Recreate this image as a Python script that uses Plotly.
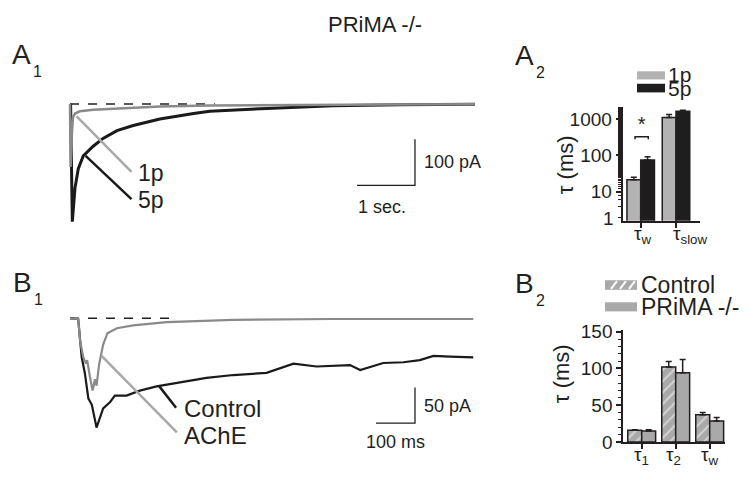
import numpy as np
import plotly.graph_objects as go

W, H = 748, 481
FONT = "Liberation Sans, Arial, sans-serif"
INK = "#231f20"

# ---------------- data ----------------
# A1: currents (pA) vs time (s)
a1_t_1p = [0.0, 0.01, 0.035, 0.052, 0.086, 0.17, 0.40, 0.98, 1.55, 2.41, 3.97, 5.5, 6.98]
a1_i_1p = [0.0, -137, -60, -29, -21, -16, -12.5, -9, -5.6, -3.5, -2.0, -1.5, -1.0]
a1_t_5p = [0.01, 0.04, 0.086, 0.143, 0.229, 0.40, 0.57, 0.81, 1.09, 1.55, 2.13, 2.41, 3.39, 4.53, 5.69, 6.98]
a1_i_5p = [0.0, -256, -183, -141, -113, -92, -75, -58, -47, -33, -21, -16, -10, -4, -2, -0.6]

# B1: currents (pA) vs time (ms)
b1_t_ache = [0, 21, 26, 34, 41, 44, 51, 58, 64, 68, 75, 85, 96, 120, 162, 248, 419, 675, 1034]
b1_i_ache = [0, -1, -32, -55, -64, -59, -82, -102, -86, -95, -64, -37, -21, -14, -10, -5.4, -2.2, -1, -1]
b1_t_ctrl = [0, 21, 30, 38, 47, 56, 68, 85, 103, 115, 145, 179, 222, 291, 350, 419, 504, 573, 632, 718, 744, 803, 855, 897, 932, 974, 1034]
b1_i_ctrl = [0, -1, -55, -77, -113, -122, -154, -127, -118, -109, -109, -102, -96, -89, -84, -80, -77, -64, -68, -66, -73, -63, -62, -59, -53, -54, -55]

# A2: time constants (ms), log scale
a2_cats = ["τ<sub>w</sub>", "τ<sub>slow</sub>"]
a2_1p = [21.3, 1110]
a2_1p_err = [3.7, 250]
a2_5p = [74.6, 1660]
a2_5p_err = [17, 100]
a2_ticks = [10, 100, 1000]

# B2: time constants (ms)
b2_cats = ["τ<sub>1</sub>", "τ<sub>2</sub>", "τ<sub>w</sub>"]
b2_ctrl = [16, 102, 37]
b2_ctrl_err = [0.5, 7.5, 3]
b2_prima = [15, 94, 28.3]
b2_prima_err = [1.5, 18, 5]

# scale bars
a1_bar_pa, a1_bar_s = 100, 1.0
b1_bar_pa, b1_bar_ms = 50, 100


def px(x):
    return x / W


def py(y):
    return 1 - y / H


fig = go.Figure()

# ---------------- A1 ----------------
fig.add_trace(go.Scatter(x=[0, 2.5], y=[0, 0], mode="lines", xaxis="x", yaxis="y",
                         line=dict(color=INK, width=1.5, dash="dash"), hoverinfo="skip"))
fig.add_trace(go.Scatter(x=a1_t_5p, y=a1_i_5p, mode="lines", xaxis="x", yaxis="y",
                         line=dict(color="#1a1a1a", width=3)))
fig.add_trace(go.Scatter(x=a1_t_1p, y=a1_i_1p, mode="lines", xaxis="x", yaxis="y",
                         line=dict(color="#8a8a8a", width=2.5)))
# label lines
fig.add_trace(go.Scatter(x=[0.115, 1.06], y=[-27, -148], mode="lines", xaxis="x", yaxis="y",
                         line=dict(color="#a8a8a8", width=2.5)))
fig.add_trace(go.Scatter(x=[0.27, 1.06], y=[-113, -207], mode="lines", xaxis="x", yaxis="y",
                         line=dict(color="#1a1a1a", width=2.5)))
# scale bar
sx, sy = 5.948, -77
fig.add_trace(go.Scatter(x=[sx - a1_bar_s, sx, sx], y=[sy - a1_bar_pa, sy - a1_bar_pa, sy],
                         mode="lines", xaxis="x", yaxis="y", line=dict(color=INK, width=1.3)))

# ---------------- B1 ----------------
fig.add_trace(go.Scatter(x=[0, 270], y=[0, 0], mode="lines", xaxis="x2", yaxis="y2",
                         line=dict(color=INK, width=1.5, dash="dash")))
fig.add_trace(go.Scatter(x=b1_t_ctrl, y=b1_i_ctrl, mode="lines", xaxis="x2", yaxis="y2",
                         line=dict(color="#1a1a1a", width=2.2)))
fig.add_trace(go.Scatter(x=b1_t_ache, y=b1_i_ache, mode="lines", xaxis="x2", yaxis="y2",
                         line=dict(color="#8a8a8a", width=2.2)))
fig.add_trace(go.Scatter(x=[81, 274], y=[-53, -161], mode="lines", xaxis="x2", yaxis="y2",
                         line=dict(color="#a8a8a8", width=2.5)))
fig.add_trace(go.Scatter(x=[229, 272], y=[-96, -126], mode="lines", xaxis="x2", yaxis="y2",
                         line=dict(color="#1a1a1a", width=2.5)))
bx, by = 884.6, -97.7
fig.add_trace(go.Scatter(x=[bx - b1_bar_ms, bx, bx], y=[by - b1_bar_pa, by - b1_bar_pa, by],
                         mode="lines", xaxis="x2", yaxis="y2", line=dict(color=INK, width=1.3)))

# ---------------- A2 ----------------
w2 = 0.39
fig.add_trace(go.Bar(x=[0, 1], y=a2_1p, width=w2, offset=-w2, xaxis="x3", yaxis="y3",
                     marker=dict(color="#b3b3b3", line=dict(color=INK, width=1.5)),
                     error_y=dict(type="data", array=a2_1p_err, arrayminus=[0, 0], symmetric=False,
                                  color=INK, thickness=1.5, width=3)))
fig.add_trace(go.Bar(x=[0, 1], y=a2_5p, width=w2, offset=0, xaxis="x3", yaxis="y3",
                     marker=dict(color="#1e1e1e", line=dict(color=INK, width=1.5)),
                     error_y=dict(type="data", array=a2_5p_err, arrayminus=[0, 0], symmetric=False,
                                  color=INK, thickness=1.5, width=3)))
# significance bracket
fig.add_trace(go.Scatter(x=[-0.16, -0.16, 0.215, 0.215], y=[280, 328, 328, 280], mode="lines",
                         xaxis="x3", yaxis="y3", line=dict(color=INK, width=1.5)))
fig.add_trace(go.Scatter(x=[0.03], y=[640], mode="text", text=["*"], xaxis="x3", yaxis="y3",
                         textfont=dict(family=FONT, size=20, color=INK)))

# ---------------- B2 ----------------
w4 = 0.41
fig.add_trace(go.Bar(x=[0, 1, 2], y=b2_ctrl, width=w4, offset=-w4, xaxis="x4", yaxis="y4",
                     marker=dict(color="#a9a9a9", line=dict(color=INK, width=1.5),
                                 pattern=dict(shape="/", fgcolor="white", bgcolor="#a9a9a9",
                                              size=8, solidity=0.25)),
                     error_y=dict(type="data", array=b2_ctrl_err, arrayminus=[0, 0, 0], symmetric=False,
                                  color=INK, thickness=1.5, width=3)))
fig.add_trace(go.Bar(x=[0, 1, 2], y=b2_prima, width=w4, offset=0, xaxis="x4", yaxis="y4",
                     marker=dict(color="#a9a9a9", line=dict(color=INK, width=1.5)),
                     error_y=dict(type="data", array=b2_prima_err, arrayminus=[0, 0, 0], symmetric=False,
                                  color=INK, thickness=1.5, width=3)))

tickfont = dict(family=FONT, size=19, color=INK)
ann = []


def text(x, y, s, size=20, xanchor="left", yanchor="middle", angle=0, color=INK):
    ann.append(dict(x=px(x), y=py(y), xref="paper", yref="paper", text=s, showarrow=False,
                    xanchor=xanchor, yanchor=yanchor, textangle=angle,
                    font=dict(family=FONT, size=size, color=color)))


# title & panel letters
text(375, 16, "PRiMA -/-", size=22, xanchor="center")
for (lx, ly, L, n) in [(10, 47, "A", "1"), (513, 48, "A", "2"), (11, 285, "B", "1"), (513, 286, "B", "2")]:
    text(lx, ly, L, size=28)
    text(lx + 21, ly + 18, n, size=16)

# A1 labels
text(136, 171, "1p", size=23)
text(136, 199, "5p", size=23)
text(422, 160, "100 pA", size=18)
text(382, 207, "1 sec.", size=18, xanchor="center")
# B1 labels
text(182, 417, "Control", size=24)
text(182, 445, "AChE", size=24)
text(422, 414, "50 pA", size=18)
text(395, 452, "100 ms", size=18, xanchor="center")

# A2 legend
shapes = []


def rect(x0, y0, x1, y1, color):
    shapes.append(dict(type="rect", xref="paper", yref="paper", x0=px(x0), x1=px(x1),
                       y0=py(y1), y1=py(y0), fillcolor=color, line=dict(width=0)))


rect(637, 65, 665, 73.5, "#b3b3b3")
rect(637, 78, 665, 87, "#1e1e1e")
text(666, 68, "1p", size=21)
text(666, 83, "5p", size=21)
# B2 legend
rect(605, 283, 637, 293, "#a9a9a9")
for sx0 in [611, 620, 629]:
    shapes.append(dict(type="line", xref="paper", yref="paper", x0=px(sx0), y0=py(292),
                       x1=px(sx0 + 6), y1=py(284), line=dict(color="white", width=2)))
rect(605, 306, 637, 315.5, "#a9a9a9")
text(639, 288, "Control", size=23)
text(639, 311, "PRiMA -/-", size=23)

# axis titles & tick labels
text(565, 163, "τ (ms)", size=22, xanchor="center", angle=-90)
text(561, 381, "τ (ms)", size=22, xanchor="center", angle=-90)
text(616, 219, "1", size=19, xanchor="right")
for xc, lab in zip([643, 690], a2_cats):
    text(xc, 236, lab, size=19, xanchor="center")
for xc, lab in zip([641, 673, 710], b2_cats):
    text(xc, 466, lab, size=19, xanchor="center")

hidden = dict(visible=False, showgrid=False, zeroline=False)

fig.update_layout(
    width=W, height=H, margin=dict(l=0, r=0, t=0, b=0),
    paper_bgcolor="white", plot_bgcolor="rgba(0,0,0,0)",
    showlegend=False, annotations=ann, shapes=shapes,
    xaxis=dict(domain=[px(60), px(490)], range=[-0.1724, 7.2414], anchor="y", **hidden),
    yaxis=dict(domain=[py(230), py(90)], range=[-272.9, 18.75], anchor="x", **hidden),
    xaxis2=dict(domain=[px(60), px(490)], range=[-25.64, 1076.9], anchor="y2", **hidden),
    yaxis2=dict(domain=[py(460), py(310)], range=[-185.5, 17.16], anchor="x2", **hidden),
    xaxis3=dict(domain=[px(622.7), px(700)], range=[-0.51, 1.68], anchor="y3",
                showgrid=False, zeroline=False, showline=True, linecolor=INK, linewidth=2,
                ticks="outside", ticklen=5, tickwidth=1.5, tickcolor=INK,
                tickvals=[0, 1], showticklabels=False),
    yaxis3=dict(domain=[py(221), py(102.3)], type="log", range=[0.198, 3.336], anchor="x3",
                showgrid=False, zeroline=False, showline=True, linecolor=INK, linewidth=2,
                ticks="outside", ticklen=5, tickwidth=1.5, tickcolor=INK,
                tickvals=a2_ticks, ticktext=[str(v) for v in a2_ticks], tickfont=tickfont,
                minor=dict(ticks="outside", ticklen=3, tickwidth=1, tickcolor=INK)),
    xaxis4=dict(domain=[px(623.3), px(725)], range=[-0.541, 2.45], anchor="y4",
                showgrid=False, zeroline=False, showline=True, linecolor=INK, linewidth=2,
                ticks="outside", ticklen=5, tickwidth=1.5, tickcolor=INK,
                tickvals=[0, 1, 2], showticklabels=False),
    yaxis4=dict(domain=[py(451.7), py(335)], range=[0, 152.2], anchor="x4",
                showgrid=False, zeroline=False, showline=True, linecolor=INK, linewidth=2,
                ticks="outside", ticklen=5, tickwidth=1.5, tickcolor=INK,
                tickvals=[0, 50, 100, 150], tickfont=tickfont,
                minor=dict(ticks="outside", ticklen=3, tickwidth=1, tickcolor=INK, dtick=10)),
)

fig.write_html("out.html", config={"displayModeBar": False},
               post_script="document.body.style.margin='0';")
